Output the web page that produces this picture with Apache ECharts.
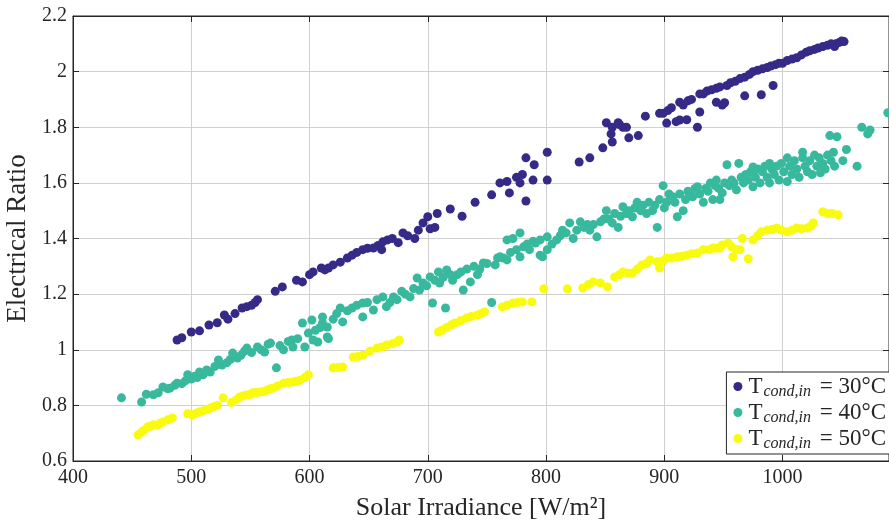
<!DOCTYPE html>
<html>
<head>
<meta charset="utf-8">
<script src="https://cdn.jsdelivr.net/npm/echarts@6/dist/echarts.min.js"></script>
<style>html,body{margin:0;padding:0;background:#fff}#c{width:889px;height:524px}</style>
</head>
<body>
<div id="c"></div>
<script>
const legendLabels = ['30', '40', '50'];
const colors = ['#352a87', '#38b99e', '#f9fb0e'];
const xTicks = [400, 500, 600, 700, 800, 900, 1000];
const yTicks = [0.6, 0.8, 1, 1.2, 1.4, 1.6, 1.8, 2, 2.2];

const irr30 = [488,492,500,507,515,522,528,531,537,543,547,551,554,556,571,577,589,594,600,603,610,613,616,620,626,632,636,640,645,649,654,658,661,662,666,670,675,679,683,689,692,696,700,702,706,708,719,729,740,754,761,767,769,775,778,780,783,783,789,790,801,801,828,837,848,851,855,856,856,861,862,865,868,870,878,884,896,899,902,903,906,910,913,913,916,919,920,923,928,930,930,933,936,940,944,944,947,949,951,953,956,960,964,968,968,972,975,979,982,983,987,990,992,994,997,1000,1004,1008,1012,1016,1020,1023,1027,1030,1034,1038,1041,1044,1045,1048,1050,1052];
const ratio30 = [1.035,1.043,1.064,1.068,1.089,1.097,1.125,1.11,1.13,1.15,1.155,1.16,1.17,1.18,1.21,1.226,1.25,1.244,1.27,1.28,1.294,1.287,1.294,1.305,1.315,1.33,1.34,1.35,1.36,1.365,1.366,1.375,1.36,1.388,1.395,1.40,1.385,1.42,1.41,1.40,1.43,1.456,1.478,1.435,1.44,1.49,1.506,1.48,1.53,1.557,1.60,1.605,1.564,1.62,1.60,1.63,1.535,1.69,1.61,1.665,1.61,1.71,1.675,1.69,1.726,1.816,1.776,1.747,1.80,1.816,1.81,1.80,1.80,1.762,1.77,1.84,1.85,1.85,1.815,1.86,1.87,1.82,1.89,1.826,1.88,1.827,1.895,1.90,1.80,1.855,1.92,1.92,1.93,1.935,1.89,1.94,1.945,1.88,1.888,1.95,1.96,1.965,1.975,1.913,1.98,1.99,2.0,2.005,1.917,2.01,2.015,2.02,1.95,2.025,2.03,2.03,2.04,2.045,2.05,2.06,2.07,2.075,2.08,2.085,2.09,2.095,2.10,2.09,2.10,2.105,2.11,2.108];

const irr40 = [441,458,462,468,472,476,480,482,486,488,492,495,497,500,503,505,507,510,513,516,520,523,526,530,533,535,539,542,545,547,551,556,559,562,565,567,572,575,578,582,585,586,590,594,596,599,602,603,605,607,609,611,611,615,615,616,620,623,626,628,632,636,640,645,645,649,654,657,662,665,668,671,674,678,681,685,688,691,693,696,699,702,704,706,709,710,713,715,716,719,721,725,728,730,733,736,739,742,744,747,750,754,757,759,761,764,767,767,770,772,775,778,778,781,784,786,789,791,795,795,797,801,801,805,809,812,814,817,820,823,826,829,832,835,837,840,843,846,849,851,853,856,858,861,863,865,868,870,873,875,877,880,882,885,887,890,892,894,896,899,900,902,904,907,909,911,913,916,918,920,922,924,926,928,930,933,935,937,939,941,943,944,946,947,949,951,953,955,957,959,961,963,965,967,969,971,973,975,975,977,979,981,983,985,987,989,989,991,993,995,997,999,1001,1004,1004,1006,1008,1010,1012,1014,1017,1017,1019,1021,1023,1025,1027,1029,1031,1032,1034,1036,1038,1040,1041,1043,1044,1046,1051,1054,1063,1067,1072,1074,1089];
const ratio40 = [0.827,0.812,0.84,0.838,0.845,0.866,0.86,0.862,0.872,0.88,0.878,0.888,0.91,0.895,0.905,0.90,0.92,0.91,0.927,0.92,0.94,0.963,0.945,0.953,0.965,0.988,0.97,0.98,0.995,1.006,0.99,1.01,1.0,0.992,1.02,1.024,0.935,1.015,1.0,1.03,1.035,1.01,1.04,1.096,1.01,1.06,1.107,1.035,1.07,1.028,1.08,1.118,1.096,1.082,1.046,1.04,1.11,1.13,1.15,1.10,1.14,1.15,1.16,1.168,1.118,1.17,1.143,1.18,1.19,1.155,1.17,1.19,1.18,1.21,1.20,1.19,1.22,1.258,1.215,1.24,1.23,1.262,1.168,1.25,1.28,1.24,1.26,1.15,1.287,1.27,1.25,1.27,1.28,1.215,1.29,1.244,1.30,1.27,1.29,1.312,1.31,1.17,1.305,1.33,1.334,1.33,1.395,1.323,1.35,1.40,1.36,1.42,1.334,1.37,1.38,1.36,1.39,1.384,1.395,1.34,1.334,1.406,1.36,1.38,1.395,1.41,1.43,1.42,1.456,1.40,1.43,1.46,1.44,1.45,1.43,1.45,1.406,1.46,1.47,1.50,1.47,1.456,1.49,1.44,1.48,1.514,1.49,1.50,1.478,1.51,1.53,1.50,1.52,1.49,1.53,1.50,1.52,1.44,1.54,1.59,1.51,1.53,1.56,1.55,1.53,1.478,1.56,1.50,1.54,1.57,1.564,1.55,1.58,1.586,1.56,1.53,1.58,1.57,1.60,1.54,1.59,1.61,1.58,1.54,1.564,1.60,1.665,1.59,1.61,1.60,1.575,1.67,1.62,1.60,1.63,1.61,1.64,1.657,1.586,1.62,1.65,1.60,1.64,1.66,1.62,1.67,1.60,1.65,1.63,1.66,1.61,1.67,1.64,1.69,1.605,1.66,1.63,1.68,1.65,1.62,1.71,1.69,1.66,1.64,1.68,1.63,1.70,1.66,1.69,1.636,1.67,1.65,1.70,1.77,1.68,1.71,1.66,1.766,1.68,1.72,1.66,1.80,1.776,1.79,1.852];

const irr50 = [455,458,460,463,465,468,472,474,476,480,484,497,501,504,507,510,513,516,519,522,527,534,538,541,544,547,550,552,555,558,561,564,567,569,573,578,582,586,589,592,596,599,620,624,628,637,641,645,651,657,661,665,670,674,676,709,712,716,720,723,728,733,737,742,745,748,763,767,772,776,780,788,798,818,831,836,840,846,852,858,862,865,869,873,877,881,885,888,894,896,899,902,906,911,915,919,923,928,933,938,941,944,947,949,954,957,958,961,964,966,971,975,979,982,987,991,995,999,1004,1008,1012,1016,1021,1024,1026,1034,1038,1042,1047];
const ratio50 = [0.694,0.704,0.71,0.722,0.725,0.73,0.73,0.737,0.74,0.748,0.755,0.77,0.765,0.772,0.777,0.78,0.785,0.79,0.795,0.80,0.827,0.81,0.82,0.83,0.835,0.837,0.84,0.845,0.846,0.848,0.85,0.855,0.86,0.862,0.87,0.88,0.882,0.884,0.887,0.89,0.90,0.91,0.935,0.936,0.938,0.974,0.976,0.98,0.995,1.006,1.01,1.017,1.022,1.028,1.035,1.064,1.07,1.08,1.09,1.096,1.105,1.114,1.12,1.125,1.13,1.136,1.154,1.16,1.168,1.17,1.172,1.172,1.219,1.219,1.222,1.235,1.244,1.24,1.226,1.262,1.27,1.28,1.275,1.276,1.29,1.305,1.31,1.323,1.316,1.294,1.32,1.33,1.33,1.334,1.336,1.34,1.345,1.348,1.36,1.36,1.366,1.365,1.366,1.377,1.384,1.37,1.334,1.36,1.36,1.40,1.327,1.395,1.41,1.424,1.43,1.432,1.438,1.43,1.424,1.43,1.438,1.435,1.438,1.445,1.456,1.496,1.49,1.49,1.485];

const FONT = 'Liberation Serif';
const zip = (a, b) => a.map((v, i) => [v, b[i]]);
const seriesData = [zip(irr30, ratio30), zip(irr40, ratio40), zip(irr50, ratio50)];

const chart = echarts.init(document.getElementById('c'), null, {renderer: 'canvas'});
const axisLineStyle = {color: '#262626', width: 1};
const gridLine = {show: true, lineStyle: {color: '#d0d0d0', width: 1}};

chart.setOption({
  animation: false,
  backgroundColor: '#ffffff',
  grid: {left: 73, right: 0, top: 16, bottom: 63, outerBoundsMode: 'none', containLabel: false,
         show: true, borderColor: '#262626', borderWidth: 1, backgroundColor: 'transparent'},
  xAxis: [{
    type: 'value', min: xTicks[0], max: 1090, interval: 100, position: 'bottom',
    axisLine: {show: true, lineStyle: axisLineStyle},
    axisTick: {show: true, inside: true, length: 6, lineStyle: axisLineStyle},
    axisLabel: {color: '#262626', fontFamily: FONT, fontSize: 20, margin: 7, showMaxLabel: false,
                formatter: (v) => String(v)},
    splitLine: gridLine,
    name: 'Solar Irradiance [W/m²]', nameLocation: 'middle', nameGap: 34,
    nameTextStyle: {color: '#262626', fontFamily: FONT, fontSize: 26}
  }, {
    type: 'value', min: xTicks[0], max: 1090, interval: 100, position: 'top',
    axisLine: {show: true, lineStyle: axisLineStyle},
    axisTick: {show: true, inside: true, length: 6, lineStyle: axisLineStyle},
    axisLabel: {show: false}, splitLine: {show: false}
  }],
  yAxis: [{
    type: 'value', min: yTicks[0], max: yTicks[yTicks.length - 1], interval: 0.2,
    axisLine: {show: true, lineStyle: axisLineStyle},
    axisTick: {show: true, inside: true, length: 6, lineStyle: axisLineStyle},
    axisLabel: {color: '#262626', fontFamily: FONT, fontSize: 20, margin: 6,
                formatter: (v) => String(Math.round(v * 10) / 10)},
    splitLine: gridLine,
    name: 'Electrical Ratio', nameLocation: 'middle', nameGap: 40,
    nameTextStyle: {color: '#262626', fontFamily: FONT, fontSize: 27}
  }, {
    type: 'value', min: yTicks[0], max: yTicks[yTicks.length - 1], interval: 0.2, position: 'right',
    axisLine: {show: true, lineStyle: axisLineStyle},
    axisTick: {show: true, inside: true, length: 6, lineStyle: axisLineStyle},
    axisLabel: {show: false}, splitLine: {show: false}
  }],
  legend: {
    orient: 'vertical', right: -2, bottom: 70,
    backgroundColor: '#ffffff', borderColor: '#262626', borderWidth: 1, borderRadius: 0,
    padding: [2, 4, 2, 7], itemGap: 0, icon: 'circle', itemWidth: 9, itemHeight: 9,
    data: legendLabels,
    formatter: (n) => '{a|T}{b|cond,in}{a| = ' + n + '°C}',
    textStyle: {
      color: '#262626', fontFamily: FONT, fontSize: 23,
      rich: {
        a: {fontFamily: FONT, fontSize: 23, color: '#262626', lineHeight: 27, verticalAlign: 'middle', padding: [0, 1, 0, 1]},
        b: {fontFamily: FONT, fontSize: 16, fontStyle: 'italic', color: '#262626', lineHeight: 27, verticalAlign: 'bottom', padding: [10, 2, 0, 0]}
      }
    }
  },
  series: legendLabels.map((n, i) => ({
    name: n, type: 'scatter', data: seriesData[i], symbol: 'circle', symbolSize: 9,
    itemStyle: {color: colors[i], opacity: 1}, z: 2 + i
  }))
});
</script>
</body>
</html>
